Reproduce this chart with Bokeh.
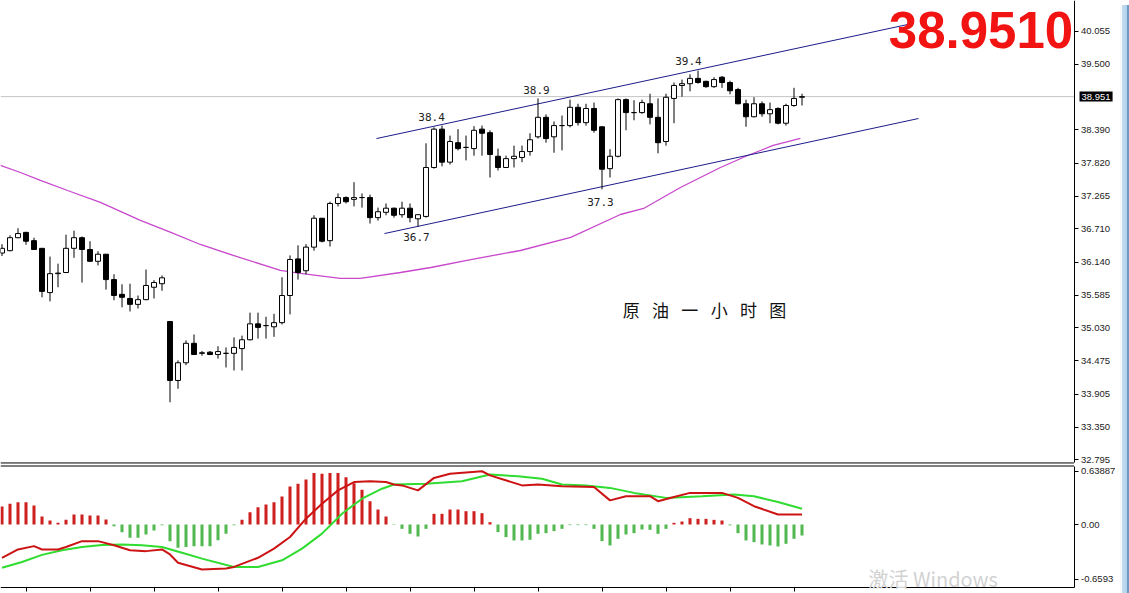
from bokeh.plotting import figure
from bokeh.layouts import column, row
from bokeh.models import (ColumnDataSource, FixedTicker, PrintfTickFormatter,
                          CustomJSTickFormatter, Label, Range1d, Div)
from bokeh.embed import file_html
from bokeh.resources import INLINE
from bokeh.core.properties import value

# ---------------- data ----------------
opens = [36.30, 36.34, 36.56, 36.65, 36.51, 36.38, 35.63, 35.95, 35.97, 36.38,
         36.56, 36.36, 36.16, 36.28, 35.85, 35.60, 35.53, 35.43, 35.51, 35.72,
         35.78, 35.14, 34.14, 34.44, 34.77, 34.60, 34.62, 34.58, 34.60, 34.60,
         34.68, 34.83, 35.10, 35.07, 35.05, 35.12, 35.58, 36.20, 36.00, 36.40,
         36.89, 36.51, 37.14, 37.24, 37.21, 37.24, 37.24, 36.90, 36.99, 37.06,
         36.95, 37.06, 36.88, 36.92, 37.75, 38.40, 37.84, 38.17, 38.09, 38.07,
         38.40, 38.34, 37.94, 37.75, 37.90, 37.92, 38.02, 38.27, 38.60, 38.27,
         38.46, 38.46, 38.77, 38.51, 38.75, 38.44, 37.73, 37.94, 38.90, 38.68,
         38.68, 38.83, 38.60, 38.19, 38.92, 39.14, 39.17, 39.26, 39.21, 39.12,
         39.28, 39.19, 39.07, 38.83, 38.61, 38.83, 38.66, 38.75, 38.50, 38.80,
         38.94]
highs = [36.45, 36.60, 36.72, 36.66, 36.56, 36.38, 36.24, 36.12, 36.61, 36.68,
         36.58, 36.50, 36.33, 36.28, 35.94, 35.77, 35.78, 35.58, 36.02, 35.84,
         35.92, 35.14, 34.48, 34.82, 34.92, 34.64, 34.64, 34.72, 34.70, 34.87,
         34.90, 35.29, 35.29, 35.22, 35.27, 35.89, 36.26, 36.43, 36.45, 36.94,
         36.89, 37.17, 37.31, 37.26, 37.50, 37.31, 37.29, 37.07, 37.14, 37.07,
         37.17, 37.14, 36.95, 38.16, 38.43, 38.46, 38.29, 38.40, 38.29, 38.45,
         38.46, 38.38, 38.07, 37.95, 38.12, 38.12, 38.33, 38.92, 38.65, 38.53,
         38.63, 38.90, 38.83, 38.83, 38.85, 38.44, 38.06, 38.92, 38.92, 38.89,
         38.90, 39.00, 38.92, 39.00, 39.19, 39.24, 39.33, 39.39, 39.22, 39.28,
         39.30, 39.22, 39.10, 38.90, 38.94, 38.87, 38.85, 38.77, 38.83, 39.10,
         39.00]
lows = [36.25, 36.33, 36.55, 36.44, 36.36, 35.55, 35.48, 35.72, 35.96, 36.22,
        35.80, 36.15, 36.09, 35.68, 35.50, 35.38, 35.31, 35.36, 35.50, 35.53,
        35.66, 33.77, 34.00, 34.40, 34.58, 34.56, 34.57, 34.51, 34.36, 34.31,
        34.31, 34.82, 34.85, 34.85, 34.88, 35.09, 35.26, 35.85, 35.94, 36.34,
        36.48, 36.41, 37.09, 37.14, 37.09, 37.07, 36.80, 36.85, 36.94, 36.90,
        36.90, 36.82, 36.75, 36.90, 37.73, 37.77, 37.80, 38.04, 37.87, 37.95,
        37.95, 37.58, 37.70, 37.75, 37.75, 37.84, 37.95, 38.24, 38.17, 38.00,
        38.04, 38.43, 38.46, 38.46, 38.34, 37.38, 37.58, 37.92, 38.38, 38.55,
        38.66, 38.48, 37.99, 38.12, 38.50, 38.95, 39.04, 39.17, 39.10, 39.10,
        39.10, 38.99, 38.82, 38.44, 38.60, 38.61, 38.50, 38.48, 38.46, 38.78,
        38.80]
closes = [36.38, 36.56, 36.63, 36.50, 36.36, 35.65, 35.95, 35.96, 36.38, 36.56,
          36.36, 36.16, 36.28, 35.85, 35.58, 35.55, 35.43, 35.51, 35.75, 35.80,
          35.88, 34.14, 34.44, 34.77, 34.58, 34.61, 34.58, 34.63, 34.60, 34.70,
          34.83, 35.10, 35.04, 35.07, 35.12, 35.58, 36.19, 35.97, 36.40, 36.89,
          36.50, 37.14, 37.24, 37.17, 37.24, 37.24, 36.90, 37.00, 37.06, 36.94,
          37.06, 36.90, 36.95, 37.75, 38.40, 37.84, 38.19, 38.07, 38.09, 38.38,
          38.33, 37.97, 37.75, 37.90, 37.94, 38.02, 38.22, 38.60, 38.24, 38.46,
          38.46, 38.77, 38.51, 38.75, 38.38, 37.72, 37.94, 38.90, 38.68, 38.68,
          38.85, 38.60, 38.17, 38.94, 39.14, 39.17, 39.26, 39.19, 39.12, 39.24,
          39.19, 39.05, 38.83, 38.61, 38.83, 38.66, 38.73, 38.50, 38.80, 38.92,
          38.951]

# moving average, read at these candle positions
ma_idx = [-0.2, 2.3, 4.8, 8.2, 12.3, 17.3, 21.1, 24.8, 28.9, 34.8, 37.3, 42.3, 44.8,
          49.8, 53.6, 58.6, 64.8, 71.1, 77.3, 80.2, 84.8, 89.8, 93.2, 96.4, 99.8]
ma_vals = [37.784, 37.665, 37.53, 37.36, 37.157, 36.852, 36.649, 36.445, 36.259,
           36.005, 35.954, 35.869, 35.869, 35.97, 36.055, 36.19, 36.343, 36.564,
           36.953, 37.055, 37.411, 37.75, 37.953, 38.123, 38.242]

upper_idx = [46.81, 113.8]
upper_vals = [38.24, 40.19]
lower_idx = [47.81, 114.56]
lower_vals = [36.63, 38.58]

mark_text = ["38.4", "38.9", "39.4", "36.7", "37.3"]
mark_idx = [53.69, 66.81, 85.81, 51.81, 74.81]
mark_price = [38.614, 39.055, 39.547, 36.58, 37.17]

title_text = "原 \u2002油 \u2002一 \u2002小 \u2002时 \u2002图"
title_idx = 87.81
title_price = 35.343

price_ticks = [40.055, 39.500, 38.390, 37.820, 37.265, 36.710, 36.140,
               35.585, 35.030, 34.475, 33.905, 33.350, 32.795]
last_price = 38.951
last_price_text = "38.951"
big_label = "38.9510"
watermark = "激活 Windows"

hist = [0.216, 0.248, 0.268, 0.268, 0.228, 0.096, 0.048, 0.02, 0.056, 0.12,
        0.12, 0.108, 0.108, 0.06, -0.02, -0.092, -0.16, -0.16, -0.12, -0.072,
        -0.01, -0.2, -0.28, -0.27, -0.26, -0.26, -0.26, -0.19, -0.11, -0.01,
        0.056, 0.148, 0.208, 0.24, 0.268, 0.336, 0.457, 0.489, 0.541, 0.62,
        0.61, 0.62, 0.62, 0.569, 0.497, 0.417, 0.28, 0.18, 0.096, -0.005,
        -0.052, -0.112, -0.144, -0.052, 0.128, 0.128, 0.18, 0.18, 0.16, 0.16,
        0.136, 0.028, -0.092, -0.152, -0.192, -0.192, -0.184, -0.112, -0.104, -0.08,
        -0.052, -0.008, -0.008, -0.008, -0.052, -0.2, -0.252, -0.172, -0.12, -0.104,
        -0.06, -0.064, -0.112, -0.052, 0.02, 0.036, 0.076, 0.068, 0.068, 0.056,
        0.048, -0.01, -0.104, -0.192, -0.212, -0.24, -0.252, -0.264, -0.232, -0.172,
        -0.132]

red_idx = [0, 2, 4, 5, 7, 8, 10, 12, 14, 16, 18, 20, 21, 22, 25, 28, 29, 32, 34, 36,
           38, 40, 42, 44, 46, 48, 49, 50, 52, 54, 56, 60, 61, 65, 67, 70, 74, 76,
           78, 81, 82, 84, 86, 90, 92, 94, 97, 100]
red_vals = [-0.40, -0.30, -0.26, -0.30, -0.30, -0.27, -0.20, -0.20, -0.25, -0.31,
            -0.32, -0.30, -0.36, -0.46, -0.54, -0.53, -0.51, -0.40, -0.29, -0.15,
            0.07, 0.25, 0.41, 0.51, 0.52, 0.51, 0.48, 0.47, 0.41, 0.56, 0.61, 0.64,
            0.59, 0.47, 0.48, 0.46, 0.45, 0.29, 0.34, 0.34, 0.28, 0.33, 0.38, 0.38,
            0.32, 0.22, 0.12, 0.12]
green_idx = [0, 2.5, 5, 7.5, 10, 12.5, 15, 17.5, 20, 22.5, 25, 29, 32, 35, 37.5, 40,
             42.5, 45, 47.5, 49, 53, 57.5, 61, 64.5, 67.5, 70, 73, 76, 79, 83, 87.5,
             91.5, 94, 97, 100]
green_vals = [-0.52, -0.45, -0.365, -0.31, -0.27, -0.245, -0.24, -0.25, -0.27, -0.34,
              -0.41, -0.51, -0.51, -0.43, -0.29, -0.11, 0.13, 0.31, 0.43, 0.48, 0.49,
              0.52, 0.60, 0.58, 0.55, 0.48, 0.47, 0.44, 0.38, 0.32, 0.34, 0.36, 0.34,
              0.27, 0.19]

macd_ticks = [0.63887, 0.0, -0.6593]
time_ticks = list(range(3, 100, 8))

# ---------------- layout constants ----------------
X0, X1 = -0.1875, 139.1875          # visible candle-index range (full width)
AXIS_X = 134.0                       # where the price scale sits
P_LO, P_HI = 32.716, 40.580          # price range of the top pane
P_EDGE = 32.742                      # bottom border of the price pane
M_LO, M_HI = -0.8293, 0.7212         # value range of the MACD pane
M_EDGE_TOP, M_EDGE_BOT = 0.7031, -0.7512

# ---------------- price pane ----------------
idx = list(range(len(opens)))
xr = Range1d(X0, X1)

p = figure(width=1115, height=464, x_range=xr, y_range=Range1d(P_LO, P_HI),
           output_backend="svg", toolbar_location=None, x_axis_location=None,
           y_axis_location="right", min_border_left=0, min_border_top=0,
           min_border_bottom=0, min_border_right=0)
p.outline_line_color = None
p.xgrid.visible = False
p.ygrid.visible = False

p.segment(x0=[X0], x1=[AXIS_X], y0=[last_price], y1=[last_price], line_color="#c4c4c4", line_width=1)
p.segment(x0=[X0], x1=[AXIS_X], y0=[P_EDGE], y1=[P_EDGE], line_color="black", line_width=1)

p.line(ma_idx, ma_vals, line_color="#c848cc", line_width=1.3)
p.line(upper_idx, upper_vals, line_color="#1c1c8a", line_width=1)
p.line(lower_idx, lower_vals, line_color="#1c1c8a", line_width=1)

tops = [max(o, c) for o, c in zip(opens, closes)]
bots = [min(o, c) for o, c in zip(opens, closes)]
fills = ["white" if c >= o else "black" for o, c in zip(opens, closes)]
src = ColumnDataSource(dict(x=idx, h=highs, l=lows, top=tops, bottom=bots, fill=fills))
p.segment(x0="x", y0="h", x1="x", y1="l", source=src, line_color="black", line_width=1)
p.vbar(x="x", width=0.62, top="top", bottom="bottom", source=src,
       fill_color="fill", line_color="black", line_width=1)

p.text(x=mark_idx, y=mark_price, text=mark_text, text_font=value("DejaVu Sans Mono"),
       text_font_size="11px", text_align="center", text_baseline="middle", text_color="#222222")
p.text(x=[title_idx], y=[title_price], text=[title_text], text_font=value("Noto Sans CJK SC"),
       text_font_size="17px", text_align="center", text_baseline="middle", text_color="#111111")

p.add_layout(Label(x=133.9, y=40.072, text=big_label, text_font="Liberation Sans",
                   text_font_style="bold", text_font_size="51px", text_color="#f21313",
                   text_align="right", text_baseline="middle"))
p.add_layout(Label(x=134.69, y=last_price, text=last_price_text, text_font="Liberation Sans",
                   text_font_size="9.5px", text_color="white", background_fill_color="black",
                   text_align="left", text_baseline="middle", padding=2))

ya = p.yaxis[0]
ya.fixed_location = AXIS_X
ya.bounds = (P_EDGE, P_HI)
ya.ticker = FixedTicker(ticks=price_ticks)
ya.formatter = PrintfTickFormatter(format="%.3f")

# ---------------- MACD pane ----------------
m = figure(width=1115, height=129, x_range=xr, y_range=Range1d(M_LO, M_HI),
           output_backend="svg", toolbar_location=None, x_axis_location="below",
           y_axis_location="right", min_border_left=0, min_border_top=0,
           min_border_bottom=0, min_border_right=0)
m.outline_line_color = None
m.xgrid.visible = False
m.ygrid.visible = False
m.segment(x0=[X0], x1=[AXIS_X], y0=[M_EDGE_TOP], y1=[M_EDGE_TOP], line_color="black", line_width=1)

htop = [max(v, 0) for v in hist]
hbot = [min(v, 0) for v in hist]
hcol = ["#cf2020" if v > 0 else "#52b852" for v in hist]
hsrc = ColumnDataSource(dict(x=idx, top=htop, bottom=hbot, col=hcol))
m.vbar(x="x", width=0.38, top="top", bottom="bottom", source=hsrc,
       fill_color="col", line_color=None)
m.line(green_idx, green_vals, line_color="#2fdc2f", line_width=2)
m.line(red_idx, red_vals, line_color="#cc1414", line_width=2)

m.add_layout(Label(x=108.3, y=-0.649, text=watermark, text_font="Noto Sans CJK SC",
                   text_font_size="20px", text_color="#d2d2d2",
                   text_align="left", text_baseline="middle"))

ma = m.yaxis[0]
ma.fixed_location = AXIS_X
ma.bounds = (M_EDGE_BOT, M_EDGE_TOP)
ma.ticker = FixedTicker(ticks=macd_ticks)
ma.formatter = CustomJSTickFormatter(code="""
if (Math.abs(tick) < 1e-9) { return '0.00'; }
if (tick > 0) { return tick.toFixed(5); }
return tick.toFixed(4);
""")

xa = m.xaxis[0]
xa.fixed_location = M_EDGE_BOT
xa.bounds = (X0, AXIS_X)
xa.ticker = FixedTicker(ticks=time_ticks)
xa.formatter = CustomJSTickFormatter(code="return '';")
xa.axis_line_color = "black"
xa.major_tick_out = 4
xa.major_tick_in = 0
xa.major_label_standoff = 0
xa.minor_tick_line_color = None
xa.major_tick_line_color = "black"

for ax in (ya, ma):
    ax.axis_line_color = "black"
    ax.axis_line_width = 1
    ax.major_tick_out = 4
    ax.major_tick_in = 0
    ax.minor_tick_line_color = None
    ax.major_tick_line_color = "black"
    ax.major_label_standoff = 3
    ax.major_label_text_font = "Liberation Sans"
    ax.major_label_text_font_size = "9.5px"
    ax.major_label_text_color = "#222222"

strip = Div(width=14, height=593, styles={
    "background": "linear-gradient(to right, #f6f9fc 0px, #f6f9fc 2px, #c4ddf0 2px, "
                  "#b2d2eb 7px, #6e9bc3 7px, #6e9bc3 9px, #a6aac2 9px, #a6aac2 14px)"})

layout = row(column(p, m, spacing=0), strip, spacing=0)

open("out.html", "w").write(file_html(layout, INLINE))
